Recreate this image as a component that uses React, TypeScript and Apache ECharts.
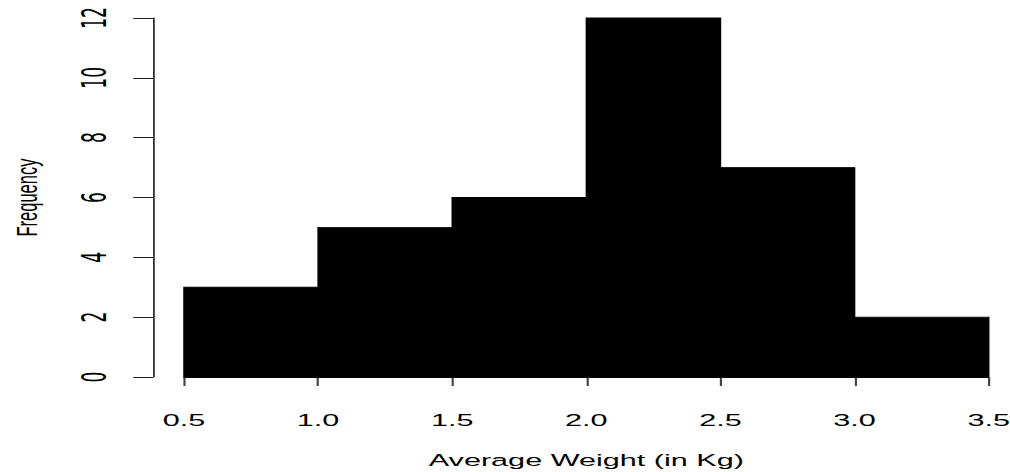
import React, { useEffect, useRef } from "react";
import * as echarts from "echarts";

// Histogram bins (Average Weight, Kg) and their frequencies
const binStarts = [0.5, 1.0, 1.5, 2.0, 2.5, 3.0];
const binEnds = [1.0, 1.5, 2.0, 2.5, 3.0, 3.5];
const counts = [3, 5, 6, 12, 7, 2];
const xTicks = [0.5, 1.0, 1.5, 2.0, 2.5, 3.0, 3.5];
const yTicks = [0, 2, 4, 6, 8, 10, 12];
const xTitle = "Average Weight (in Kg)";
const yTitle = "Frequency";

const STRETCH = 1.8;
const W = 1010;
const H = 472;

export default function App() {
  const ref = useRef<HTMLDivElement>(null);

  useEffect(() => {
    if (!ref.current) return;
    const chart = echarts.init(ref.current, undefined, { renderer: "svg" });
    const font = "'Liberation Sans', Arial, sans-serif";
    const narrow = "'Liberation Sans Narrow', 'Arial Narrow', 'DejaVu Sans Condensed', sans-serif";
    const data = binStarts.map((s, i) => [s, binEnds[i], counts[i]]);
    chart.setOption({
      animation: false,
      backgroundColor: "#ffffff",
      grid: {
        left: 102.2,
        right: 11.7,
        top: 18,
        bottom: H - 377,
        containLabel: false,
        outerBoundsMode: "none",
      },
      xAxis: {
        type: "value",
        min: xTicks[0],
        max: xTicks[xTicks.length - 1],
        interval: 0.5,
        offset: 14,
        name: xTitle,
        nameLocation: "middle",
        nameGap: 61,
        nameTextStyle: { color: "#000", fontSize: 17, fontFamily: font },
        axisLine: { show: true, lineStyle: { color: "#000", width: 1 } },
        axisTick: { show: true, length: 9, lineStyle: { color: "#444", width: 1.2 } },
        axisLabel: {
          color: "#000",
          fontSize: 17,
          fontFamily: font,
          margin: 21,
          formatter: (v: number) => v.toFixed(1),
        },
        splitLine: { show: false },
      },
      yAxis: {
        type: "value",
        min: yTicks[0],
        max: yTicks[yTicks.length - 1],
        interval: 2,
        offset: 17.2,
        name: yTitle,
        nameLocation: "middle",
        nameGap: 62,
        nameTextStyle: { color: "#000", fontSize: 16.5, fontFamily: font },
        axisLine: { show: true, lineStyle: { color: "#333", width: 1 } },
        axisTick: { show: true, length: 11, lineStyle: { color: "#222", width: 1 } },
        axisLabel: {
          color: "#000",
          fontSize: 19,
          fontFamily: narrow,
          rotate: 90,
          margin: 23,
        },
        splitLine: { show: false },
      },
      series: [
        {
          type: "custom",
          data,
          encode: { x: [0, 1], y: 2 },
          renderItem: (params: any, api: any) => {
            const p0 = api.coord([api.value(0), api.value(2)]);
            const p1 = api.coord([api.value(1), 0]);
            return {
              type: "rect",
              shape: { x: p0[0], y: p0[1], width: p1[0] - p0[0], height: p1[1] - p0[1] },
              style: { fill: "#000", stroke: "#000", lineWidth: 0.8 },
            };
          },
        },
      ],
    });
    return () => chart.dispose();
  }, []);

  return (
    <div
      style={{
        position: "absolute",
        left: 0,
        top: 0,
        width: W,
        height: H,
        overflow: "hidden",
        background: "#fff",
      }}
    >
      <div
        ref={ref}
        style={{
          width: W / STRETCH,
          height: H,
          transform: `scaleX(${STRETCH})`,
          transformOrigin: "0 0",
        }}
      />
    </div>
  );
}
